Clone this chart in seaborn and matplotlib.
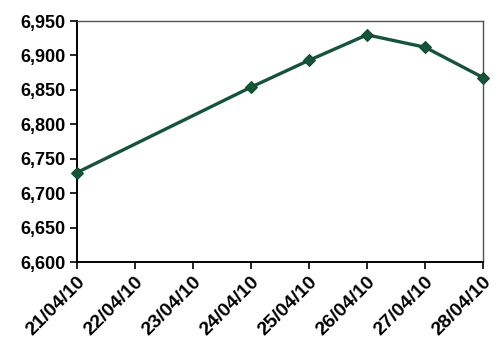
import matplotlib
matplotlib.use("Agg")
import matplotlib.pyplot as plt
import seaborn as sns
import pandas as pd
from matplotlib.ticker import FuncFormatter, MultipleLocator

dates = ["2010-04-21", "2010-04-24", "2010-04-25", "2010-04-26", "2010-04-27", "2010-04-28"]
values = [6730, 6854, 6893, 6930, 6912, 6868]
tick_dates = ["2010-04-21", "2010-04-22", "2010-04-23", "2010-04-24",
              "2010-04-25", "2010-04-26", "2010-04-27", "2010-04-28"]
tick_labels = ["21/04/10", "22/04/10", "23/04/10", "24/04/10",
               "25/04/10", "26/04/10", "27/04/10", "28/04/10"]

sns.set_style("white")
plt.rcParams['font.family'] = ['Liberation Sans', 'DejaVu Sans']

df = pd.DataFrame({"date": pd.to_datetime(dates), "value": values})

fig = plt.figure(figsize=(5, 3.57), dpi=100)
ax = fig.add_axes([0.154, 0.266, 0.812, 0.675])
sns.lineplot(data=df, x="date", y="value", ax=ax, color="#17533a", linewidth=2.4,
             marker="D", markersize=6.5, markeredgecolor="#0f4a2c", clip_on=False,
             zorder=5)

td = pd.to_datetime(tick_dates)
ax.set_xlim(td[0], td[-1])
ax.set_xticks(td)
ax.set_xticklabels(tick_labels, rotation=45, ha="right", rotation_mode="anchor",
                   fontsize=14, fontweight="bold", color="black")
ax.set_ylim(6600, 6950)
ax.yaxis.set_major_locator(MultipleLocator(50))
ax.yaxis.set_major_formatter(FuncFormatter(lambda v, p: f"{int(v):,}"))
ax.tick_params(axis="y", labelsize=13, labelcolor="black")
for lbl in ax.get_yticklabels():
    lbl.set_fontweight("bold")
ax.set_xlabel("")
ax.set_ylabel("")
ax.tick_params(axis="both", direction="out", length=5, width=1.2, color="black",
               left=True, bottom=True, pad=3)
for s in ["left", "bottom"]:
    ax.spines[s].set_color("black")
    ax.spines[s].set_linewidth(1.4)
for s in ["top", "right"]:
    ax.spines[s].set_color("#55506a")
    ax.spines[s].set_linewidth(1.0)
ax.grid(False)

fig.savefig("out.png", dpi=100)
